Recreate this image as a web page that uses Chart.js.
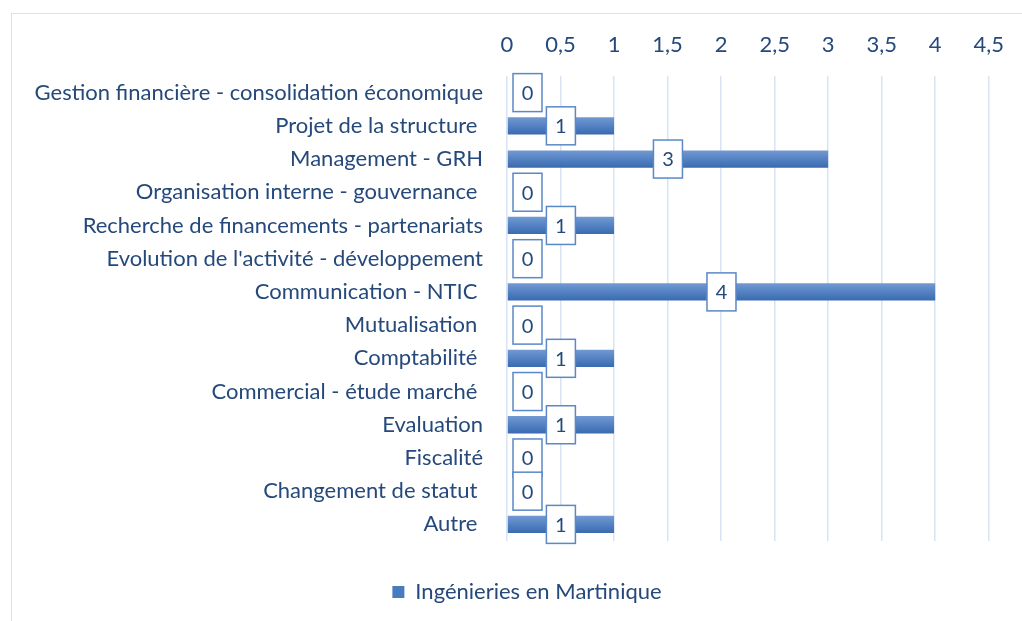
<!DOCTYPE html>
<html>
<head>
<meta charset="utf-8">
<script src="https://cdn.jsdelivr.net/npm/chart.js@4"></script>
<style>
  html, body { margin: 0; padding: 0; background: #fff; }
  #wrap { position: absolute; left: 0; top: 0; width: 1022px; height: 621px; }
  #frame { position: absolute; left: 11px; top: 13px; width: 1100px; height: 700px; border: 1.5px solid #dbe3ef; box-sizing: border-box; }
  canvas { position: absolute; left: 0; top: 0; }
</style>
</head>
<body>
<div id="wrap">
  <div id="frame"></div>
  <canvas id="chart" width="1022" height="621"></canvas>
</div>
<script>
// categories, top to bottom
const categories = [
  'Gestion financière - consolidation économique',
  'Projet de la structure ',
  'Management - GRH',
  'Organisation interne - gouvernance ',
  'Recherche de financements - partenariats',
  "Evolution de l'activité - développement",
  'Communication - NTIC ',
  'Mutualisation ',
  'Comptabilité ',
  'Commercial - étude marché ',
  'Evaluation',
  'Fiscalité',
  'Changement de statut ',
  'Autre '
];
const values = [0, 1, 3, 0, 1, 0, 4, 0, 1, 0, 1, 0, 0, 1];
const seriesName = 'Ingénieries en Martinique';
const xTicks = [0, 0.5, 1, 1.5, 2, 2.5, 3, 3.5, 4, 4.5];

const textColor = '#25497b';
const fontFamily = 'Lato, "Open Sans", sans-serif';

function barGradient(ctx) {
  // Excel-like vertical shading on each bar
  const chart = ctx.chart;
  const yScale = chart.scales.y;
  if (!yScale || ctx.dataIndex === undefined) return '#4a7bbf';
  const y = yScale.getPixelForValue(ctx.dataIndex);
  if (!isFinite(y)) return '#4a7bbf';
  const h = 17;
  const g = chart.ctx.createLinearGradient(0, y - h / 2, 0, y + h / 2);
  g.addColorStop(0, '#7299d2');
  g.addColorStop(0.5, '#5482c3');
  g.addColorStop(1, '#3a6baf');
  return g;
}

// let the long category labels run past the left edge of the y scale box
const unclipLabels = {
  id: 'unclipLabels',
  afterLayout(chart) {
    chart.scales.y.left = 0;
  }
};

// boxed value labels centered on the bars
const valueBoxes = {
  id: 'valueBoxes',
  afterDatasetsDraw(chart) {
    const ctx = chart.ctx;
    const meta = chart.getDatasetMeta(0);
    ctx.save();
    ctx.font = '20px ' + fontFamily;
    ctx.textAlign = 'center';
    ctx.textBaseline = 'middle';
    meta.data.forEach((bar, i) => {
      const w = 29, h = 38;
      let cx = (bar.x + bar.base) / 2;
      cx = Math.max(cx, bar.base + 6 + w / 2);
      const cy = bar.y;
      ctx.fillStyle = '#ffffff';
      ctx.fillRect(cx - w / 2, cy - h / 2, w, h);
      ctx.strokeStyle = '#5b88c6';
      ctx.lineWidth = 1.5;
      ctx.strokeRect(cx - w / 2, cy - h / 2, w, h);
      ctx.fillStyle = textColor;
      ctx.fillText(String(values[i]), cx, cy + 1);
    });
    ctx.restore();
  }
};

new Chart(document.getElementById('chart'), {
  type: 'bar',
  data: {
    labels: categories,
    datasets: [{
      label: seriesName,
      data: values,
      backgroundColor: barGradient,
      borderWidth: 0,
      categoryPercentage: 1,
      barPercentage: 0.52
    }]
  },
  options: {
    indexAxis: 'y',
    responsive: false,
    animation: false,
    devicePixelRatio: 1,
    layout: {
      padding: { left: 63, right: 31, top: 0, bottom: 8 }
    },
    scales: {
      x: {
        position: 'top',
        min: 0,
        max: 4.5,
        afterBuildTicks: (scale) => {
          scale.ticks = xTicks.map(v => ({ value: v }));
        },
        afterFit: (scale) => { scale.height = 76; },
        grid: {
          color: '#d8e3f3',
          lineWidth: 1.5,
          drawTicks: false
        },
        border: { display: false },
        ticks: {
          padding: 18,
          color: textColor,
          font: { size: 22, family: fontFamily },
          callback: (v) => String(v).replace('.', ',')
        }
      },
      y: {
        afterFit: (scale) => { scale.width = 507 - 63; },
        grid: { display: false, drawTicks: false },
        border: { display: false },
        ticks: {
          padding: 24,
          autoSkip: false,
          color: textColor,
          font: { size: 22, family: fontFamily }
        }
      }
    },
    plugins: {
      legend: {
        position: 'bottom',
        title: {
          display: true,
          text: '',
          font: { size: 10 },
          padding: { top: 18, bottom: 0 }
        },
        labels: {
          color: textColor,
          font: { size: 22, family: fontFamily },
          boxWidth: 12,
          boxHeight: 12,
          padding: 10,
          generateLabels: () => [{
            text: seriesName,
            fillStyle: '#4a7bbf',
            strokeStyle: '#4a7bbf',
            lineWidth: 0,
            fontColor: textColor
          }]
        }
      },
      tooltip: { enabled: false }
    }
  },
  plugins: [unclipLabels, valueBoxes]
});
</script>
</body>
</html>
